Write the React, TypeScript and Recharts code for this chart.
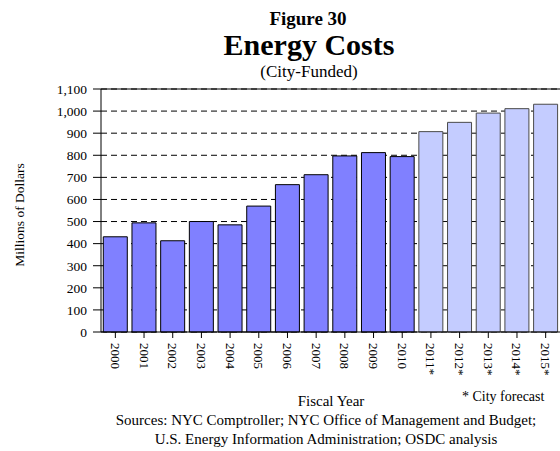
import React from 'react';
import { BarChart, Bar, XAxis, YAxis, CartesianGrid, Cell, ReferenceLine } from 'recharts';

const years = ['2000', '2001', '2002', '2003', '2004', '2005', '2006', '2007', '2008', '2009', '2010', '2011*', '2012*', '2013*', '2014*', '2015*'];
const costs = [431, 494, 413, 500, 485, 570, 667, 712, 797, 812, 794, 907, 949, 991, 1011, 1031];
const isForecast = [false, false, false, false, false, false, false, false, false, false, false, true, true, true, true, true];
const yTicks = [0, 100, 200, 300, 400, 500, 600, 700, 800, 900, 1000, 1100];

const data = years.map((year, i) => ({ year, cost: costs[i], forecast: isForecast[i] }));

const FONT = '"Liberation Serif", "Times New Roman", Times, serif';

const XTick = (props: any) => {
  const { x, y, payload } = props;
  return (
    <g transform={`translate(${x},${y})`}>
      <text
        transform="rotate(90)"
        x={0}
        y={0}
        textAnchor="start"
        dominantBaseline="central"
        fontFamily={FONT}
        fontSize={13}
        fill="#000"
      >
        {payload.value}
      </text>
    </g>
  );
};

const fmt = (v: number) => v.toLocaleString('en-US');

export default function App() {
  return (
    <div style={{ position: 'absolute', left: 0, top: 0, width: 560, height: 451, background: '#fff' }}>
      <BarChart
        width={560}
        height={451}
        data={data}
        margin={{ top: 89, right: 0, bottom: 0, left: 0 }}
        barCategoryGap="8%"
      >
        <CartesianGrid vertical={false} stroke="#000" strokeDasharray="6 4" strokeWidth={1} />
        <ReferenceLine y={1100} stroke="#000" strokeWidth={1} ifOverflow="extendDomain" />
        <XAxis
          dataKey="year"
          height={119}
          tickLine={{ stroke: '#000' }}
          axisLine={{ stroke: '#000' }}
          tickSize={6}
          tickMargin={5}
          interval={0}
          tick={<XTick />}
        />
        <YAxis
          width={101}
          domain={[0, 1100]}
          ticks={yTicks}
          interval={0}
          tickFormatter={fmt}
          tickSize={8}
          tickMargin={6}
          tickLine={{ stroke: '#000' }}
          axisLine={{ stroke: '#000' }}
          tick={{ fontFamily: FONT, fontSize: 13.5, fill: '#000' }}
        />
        <Bar dataKey="cost" isAnimationActive={false} stroke="#000" strokeWidth={1}>
          {data.map((d, i) => (
            <Cell
              key={i}
              fill={d.forecast ? '#C4CCFF' : '#8080FF'}
              stroke={d.forecast ? '#4a4a4a' : '#000'}
            />
          ))}
        </Bar>
      </BarChart>
      <svg
        width={560}
        height={451}
        style={{ position: 'absolute', left: 0, top: 0, pointerEvents: 'none' }}
      >
        <g fontFamily={FONT} fill="#000">
          <text x={308} y={25} textAnchor="middle" fontSize={19} fontWeight="bold">Figure 30</text>
          <text x={309} y={55} textAnchor="middle" fontSize={30} fontWeight="bold">Energy Costs</text>
          <text x={309} y={77} textAnchor="middle" fontSize={17}>(City-Funded)</text>
          <text
            transform="translate(24,215) rotate(-90)"
            textAnchor="middle"
            fontSize={13.5}
          >
            Millions of Dollars
          </text>
          <text x={331} y={406} textAnchor="middle" fontSize={15}>Fiscal Year</text>
          <text x={462} y={401} textAnchor="start" fontSize={14}>* City forecast</text>
          <text x={326} y={425} textAnchor="middle" fontSize={15}>Sources: NYC Comptroller; NYC Office of Management and Budget;</text>
          <text x={326} y={444} textAnchor="middle" fontSize={15}>U.S. Energy Information Administration; OSDC analysis</text>
        </g>
      </svg>
    </div>
  );
}
